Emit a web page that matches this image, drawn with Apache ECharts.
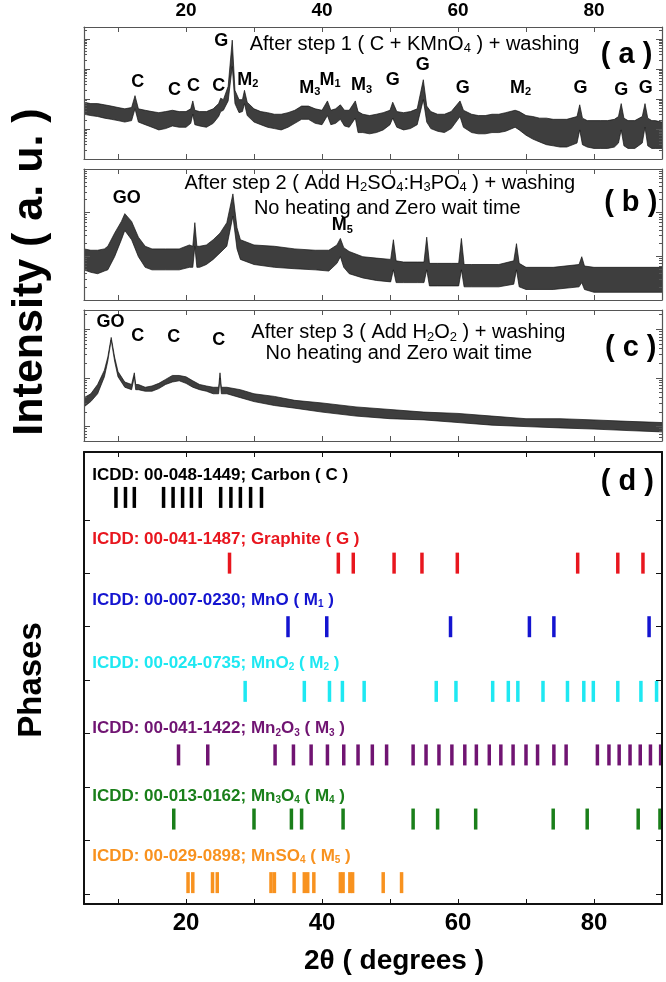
<!DOCTYPE html>
<html>
<head>
<meta charset="utf-8">
<script src="https://cdn.jsdelivr.net/npm/echarts@6/dist/echarts.min.js"></script>
<style>
  html, body { margin: 0; padding: 0; background: #fff; }
  #chart { width: 666px; height: 982px; }
</style>
</head>
<body>
<div id="chart"></div>
<script>
var FONT = '"Liberation Sans", Arial, sans-serif';

// 2theta axis
var thetaMin = 5, thetaMax = 90;
var thetaTicks = [10, 20, 30, 40, 50, 60, 70, 80, 90];
var thetaLabels = [20, 40, 60, 80];

// panel (a) : after step 1, noise band read as upper / lower envelope (counts)
var thetaA = [5,6,7,8,9,10,11,12,12.5,13,14,15,16,17,18,19,20,20.7,21.0,21.3,22,23,24,24.8,25.1,25.5,26.2,26.8,27.2,27.8,28.3,28.6,29,30,31,32,33,34,35,36,37,38,39,40,40.8,41.3,42,42.7,43.3,44,44.9,45.3,46,47,48,49,50,50.4,51,52,53,54,54.9,55.4,56,57,58,59,60.3,60.8,62,63,64,65,66,67,68.4,69,70,71,72,73,74,75,76,77.5,77.9,78.3,79,80,81,82,83,83.6,84.0,84.4,85,86,87.1,87.5,87.9,88.5,89,90];
var upperA = [78,70,70,64,58,52,47,52,129,47,42,38,35,38,42,38,38,47,86,42,38,38,47,70,106,95,263,9120,194,95,95,194,78,47,38,35,31,31,35,42,58,58,47,42,86,42,47,64,42,42,86,38,31,28,31,35,42,78,38,35,38,47,437,58,38,31,31,38,86,42,31,28,28,31,31,35,42,38,28,26,23,23,21,21,21,26,64,23,19,19,19,19,21,26,70,23,19,19,26,70,23,19,19,17];
var lowerA = [31,28,26,23,21,19,17,19,47,17,13.9,11.4,9.3,10.3,12.6,11.4,11.4,15.4,31,13.9,12.6,11.4,15.4,26,38,42,86,1202,70,35,38,70,28,17,13.9,11.4,10.3,9.3,11.4,15.4,21,21,15.4,13.9,28,13.9,15.4,21,12.6,11.4,23,7.6,7.6,6.9,7.6,9.3,13.9,23,11.4,9.3,10.3,13.9,95,17,10.3,8.4,7.6,10.3,26,11.4,7.6,6.9,6.9,7.6,7.6,8.4,11.4,9.3,6.2,4.6,3.7,3.0,2.75,2.5,2.5,3.4,9.3,3.0,2.5,2.25,2.25,2.25,2.5,3.4,9.3,2.75,2.25,2.25,3.4,11.4,2.75,2.25,2.25,2.25];
var rangeA = [1, 25000];
var decadesA = [1, 10, 100, 1000, 10000];
var labelThetaA = [12.9, 18.3, 21.1, 24.8, 25.2, 29.1, 38.2, 41.2, 45.8, 50.4, 54.8, 60.7, 69.2, 78.0, 84.0, 87.6];
var labelLevelA = [356, 194, 263, 263, 8241, 437, 238, 437, 291, 437, 1330, 238, 238, 238, 194, 238];
var labelTextA = ['C', 'C', 'C', 'C', 'G', 'M{s|2}', 'M{s|3}', 'M{s|1}', 'M{s|3}', 'G', 'G', 'G', 'M{s|2}', 'G', 'G', 'G'];
var titleA = ['After step 1 ( C + KMnO{t|4} ) + washing'];
var titleThetaA = [53.6], titleLevelA = [6730];
var tagA = [84.8, 2992];

// panel (b) : after step 2
var thetaB = [5,6,7,8,8.5,9.5,10.5,11.0,12,13,14,15,17,19,20.5,21.0,21.3,21.6,22,23,24,25,26,26.9,27.5,28,30,33,36,39,41,42.2,42.7,43.2,44,46,48,50.1,50.5,50.9,52,54,55.0,55.4,55.8,57,59,60.1,60.5,60.9,62,66,68.2,68.6,69,70,74,77.8,78.2,78.6,80,85,90];
var upperB = [14.8,13.8,13.8,14.8,17,34,63,95,63,27.5,17,14.8,14.8,14.8,18.2,17,59,17,17,18.2,24,34,59,269,45,24,18.2,17,14.8,13.8,13.8,18.2,25.7,15.8,12.9,9.8,9.1,8.5,24,7.9,7.4,7.4,7.4,27.5,6.9,6.9,6.9,6.9,25.7,6.5,6.5,6.5,7.9,19.5,6.9,5.6,5.6,6.5,9.8,6.0,5.6,5.6,5.6];
var lowerB = [4.9,4.3,4.0,4.6,4.9,9.8,24,39,24,9.8,5.6,4.9,4.9,4.9,5.6,5.6,17,5.6,5.6,6.5,8.5,12,17,83,14.8,8.5,6.5,5.6,5.2,4.9,4.6,6.9,9.8,5.6,4.0,3.2,2.8,2.6,4.9,2.5,2.5,2.5,2.5,4.9,2.1,2.1,2.1,2.1,4.9,2.0,2.0,2.0,2.3,4.9,2.0,1.74,1.74,2.0,2.5,1.74,1.5,1.5,1.5];
var rangeB = [1, 1000];
var decadesB = [1, 10, 100];
var labelThetaB = [11.3, 43.0];
var labelLevelB = [213, 52];
var labelTextB = ['GO', 'M{s|5}'];
var titleB = ['After step 2 ( Add H{t|2}SO{t|4}:H{t|3}PO{t|4} ) + washing', 'No heating and Zero wait time'];
var titleThetaB = [48.5, 49.6], titleLevelB = [471, 126];
var tagB = [85.4, 163];

// panel (c) : after step 3
var thetaC = [5,6,7,8,8.5,9,9.5,10,11,12,12.2,12.4,12.6,13,14,15,16,17,18,19,20,21,22,23,24,24.8,25.0,25.2,26,28,30,33,36,40,45,50,55,60,65,70,75,80,85,90];
var upperC = [3.9,4.7,7.3,14.4,26.8,68,26.8,13.5,8.2,7.3,7.3,12.7,7.3,7.3,6.4,6.8,7.7,9.3,11.2,11.2,10.5,8.7,7.3,6.8,6.4,6.4,12.7,6.4,6.4,5.7,4.7,4.15,3.44,3.04,2.52,2.23,1.97,1.85,1.63,1.44,1.44,1.36,1.27,1.2];
var lowerC = [2.52,3.24,4.7,10.5,22.2,60,22.2,10.5,6.4,5.7,5.7,10.5,5.7,5.7,5.3,5.3,6.0,7.3,8.2,8.7,7.7,6.4,5.7,5.3,4.7,4.7,9.9,4.7,4.7,3.9,3.24,2.69,2.37,1.97,1.63,1.44,1.36,1.2,1.06,0.99,0.93,0.88,0.82,0.77];
var rangeC = [0.5, 250];
var decadesC = [0.1, 1, 10, 100];
var labelThetaC = [8.9, 12.9, 18.2, 24.8];
var labelLevelC = [144, 74, 71, 61];
var labelTextC = ['GO', 'C', 'C', 'C'];
var titleC = ['After step 3 ( Add H{t|2}O{t|2} ) + washing', 'No heating and Zero wait time'];
var titleThetaC = [52.7, 51.3], titleLevelC = [86, 32];
var tagC = [85.4, 41];

// panel (d) : reference phases (stick positions in 2theta)
var carbonPeaks = [9.7, 11.1, 12.4, 16.7, 18.1, 19.5, 20.8, 22.1, 25.1, 26.6, 28.0, 29.5, 31.1];
var graphitePeaks = [26.4, 42.4, 44.6, 50.6, 54.7, 59.9, 77.6, 83.5, 87.2];
var mnoPeaks = [35.0, 40.7, 58.9, 70.5, 74.1, 88.1];
var mno2Peaks = [28.7, 37.4, 41.1, 43.0, 46.2, 56.8, 59.7, 65.1, 67.4, 68.8, 72.5, 76.1, 78.5, 79.9, 83.5, 86.9, 89.2];
var mn2o3Peaks = [18.9, 23.2, 33.1, 35.8, 38.4, 40.8, 43.2, 45.3, 47.4, 49.5, 53.4, 55.3, 57.2, 59.1, 61.0, 62.7, 64.6, 66.3, 68.1, 70.0, 71.7, 74.1, 75.9, 80.5, 82.2, 83.7, 85.3, 86.8, 88.3, 89.8];
var mn3o4Peaks = [18.2, 30.0, 35.5, 37.0, 43.1, 53.4, 57.0, 62.6, 74.0, 79.0, 86.5, 89.7];
var mnso4Peaks = [20.3, 21.0, 23.9, 24.6, 32.5, 33.0, 35.9, 37.4, 37.9, 38.8, 42.7, 43.1, 44.1, 44.5, 49.0, 51.7];

var phaseNames = [
  'ICDD: 00-048-1449; Carbon ( C )',
  'ICDD: 00-041-1487; Graphite ( G )',
  'ICDD: 00-007-0230; MnO ( M{s|1} )',
  'ICDD: 00-024-0735; MnO{s|2} ( M{s|2} )',
  'ICDD: 00-041-1422; Mn{s|2}O{s|3} ( M{s|3} )',
  'ICDD: 00-013-0162; Mn{s|3}O{s|4} ( M{s|4} )',
  'ICDD: 00-029-0898; MnSO{s|4} ( M{s|5} )'
];
var phaseColors = ['#000000', '#e8161e', '#1414d0', '#1ee8f2', '#701472', '#1a7f1a', '#f8921f'];
var phasePeaks = [carbonPeaks, graphitePeaks, mnoPeaks, mno2Peaks, mn2o3Peaks, mn3o4Peaks, mnso4Peaks];
var phaseRow = [7.42, 6.19, 5.0, 3.79, 2.60, 1.40, 0.21];
var phaseLabelRow = [7.84, 6.64, 5.50, 4.32, 3.09, 1.83, 0.71];
var phaseLabelTheta = 6.2;
var rowTicks = [0, 1, 2, 3, 4, 5, 6, 7];
var rowRange = [-0.19, 8.27];
var tagD = [84.9, 7.71];

var panels = [
  { theta: thetaA, upper: upperA, lower: lowerA, range: rangeA, decades: decadesA,
    lx: labelThetaA, ly: labelLevelA, lt: labelTextA, tt: titleA, tx: titleThetaA, ty: titleLevelA, tag: tagA, tagText: '( a )' },
  { theta: thetaB, upper: upperB, lower: lowerB, range: rangeB, decades: decadesB,
    lx: labelThetaB, ly: labelLevelB, lt: labelTextB, tt: titleB, tx: titleThetaB, ty: titleLevelB, tag: tagB, tagText: '( b )' },
  { theta: thetaC, upper: upperC, lower: lowerC, range: rangeC, decades: decadesC,
    lx: labelThetaC, ly: labelLevelC, lt: labelTextC, tt: titleC, tx: titleThetaC, ty: titleLevelC, tag: tagC, tagText: '( c )' }
];

var gridBoxes = [
  { left: 84, top: 27, width: 578, height: 132 },
  { left: 84, top: 169, width: 578, height: 131 },
  { left: 84, top: 310, width: 578, height: 131 },
  { left: 84, top: 452, width: 578, height: 452 }
];

function lg(v) { return Math.log10(v); }

var frameColor = '#555', frameWidth = 1.2;
var solid = { opacity: 1 };

function xAxisFor(i, pos, showLabel, size, color, width) {
  return {
    type: 'value', gridIndex: i, position: pos, min: thetaMin, max: thetaMax, z: 5,
    axisLine: { show: true, onZero: false, lineStyle: { color: color, width: width } },
    axisTick: { show: true, inside: true, length: 5, customValues: thetaTicks, lineStyle: { color: color, width: 1 } },
    axisLabel: { show: showLabel, customValues: thetaLabels, fontFamily: FONT, fontWeight: 'bold', fontSize: size, color: '#000', margin: 7 },
    splitLine: { show: false }
  };
}

function yAxisFor(i, pos, range, ticks, len, line, color, width) {
  return {
    type: 'value', gridIndex: i, position: pos, min: range[0], max: range[1], z: 5,
    axisLine: { show: line, onZero: false, lineStyle: { color: color, width: width } },
    axisTick: { show: true, inside: true, length: len, customValues: ticks, lineStyle: { color: color, width: 1 } },
    axisLabel: { show: false },
    splitLine: { show: false }
  };
}

var xAxes = [], yAxes = [], series = [];

var labelRich = {
  s: { fontFamily: FONT, fontWeight: 'bold', fontSize: 11, color: '#000', lineHeight: 11, verticalAlign: 'bottom' }
};
var titleRich = {
  t: { fontFamily: FONT, fontSize: 13, color: '#000', lineHeight: 13, verticalAlign: 'bottom' }
};

panels.forEach(function (p, i) {
  xAxes.push(xAxisFor(i, 'bottom', false, 19, frameColor, frameWidth));
  xAxes.push(xAxisFor(i, 'top', i === 0, 19, frameColor, frameWidth));

  var r = [lg(p.range[0]), lg(p.range[1])];
  var majors = [], minors = [];
  p.decades.forEach(function (d) {
    if (d >= p.range[0] && d <= p.range[1]) majors.push(lg(d));
    for (var m = 2; m <= 9; m++) {
      if (d * m > p.range[0] && d * m < p.range[1]) minors.push(lg(d * m));
    }
  });
  var base = yAxes.length;
  yAxes.push(yAxisFor(i, 'left', r, majors, 6, true, frameColor, frameWidth));
  yAxes.push(yAxisFor(i, 'left', r, minors, 3, false, frameColor, frameWidth));
  yAxes.push(yAxisFor(i, 'right', r, majors, 6, true, frameColor, frameWidth));
  yAxes.push(yAxisFor(i, 'right', r, minors, 3, false, frameColor, frameWidth));

  var up = p.theta.map(function (t, k) { return [t, lg(p.upper[k])]; });
  var lo = p.theta.map(function (t, k) { return [t, lg(p.lower[k])]; });

  series.push({
    type: 'line', xAxisIndex: 2 * i, yAxisIndex: base, data: up, symbol: 'none', z: 2,
    lineStyle: { color: '#111', width: 0.7 },
    areaStyle: { color: '#3e3e3e', opacity: 1, origin: 'start' }
  });
  series.push({
    type: 'line', xAxisIndex: 2 * i, yAxisIndex: base, data: lo, symbol: 'none', z: 3,
    lineStyle: { color: '#111', width: 0.7 },
    areaStyle: { color: '#ffffff', opacity: 1, origin: 'start' }
  });

  // peak annotations
  series.push({
    type: 'scatter', xAxisIndex: 2 * i, yAxisIndex: base, symbolSize: 0, z: 10, silent: true, itemStyle: solid,
    data: p.lx.map(function (x, k) { return { name: p.lt[k], value: [x, lg(p.ly[k])] }; }),
    label: { show: true, position: 'inside', formatter: function (q) { return q.name; },
      fontFamily: FONT, fontWeight: 'bold', fontSize: 18, color: '#000', lineHeight: 20, rich: labelRich }
  });
  // titles
  series.push({
    type: 'scatter', xAxisIndex: 2 * i, yAxisIndex: base, symbolSize: 0, z: 10, silent: true, itemStyle: solid,
    data: p.tt.map(function (s, k) { return { name: s, value: [p.tx[k], lg(p.ty[k])] }; }),
    label: { show: true, position: 'inside', formatter: function (q) { return q.name; },
      fontFamily: FONT, fontSize: 20, color: '#000', lineHeight: 22, rich: titleRich }
  });
  // panel tag
  series.push({
    type: 'scatter', xAxisIndex: 2 * i, yAxisIndex: base, symbolSize: 0, z: 10, silent: true, itemStyle: solid,
    data: [{ name: p.tagText, value: [p.tag[0], lg(p.tag[1])] }],
    label: { show: true, position: 'inside', formatter: function (q) { return q.name; },
      fontFamily: FONT, fontWeight: 'bold', fontSize: 29, color: '#000' }
  });
});

// panel (d)
xAxes.push(xAxisFor(3, 'bottom', true, 24, '#111', 2));
xAxes.push(xAxisFor(3, 'top', false, 19, '#111', 2));
var dY = yAxes.length;
yAxes.push(yAxisFor(3, 'left', rowRange, rowTicks, 6, true, '#111', 2));
yAxes.push(yAxisFor(3, 'right', rowRange, rowTicks, 6, true, '#111', 2));

phasePeaks.forEach(function (peaks, k) {
  series.push({
    type: 'scatter', xAxisIndex: 6, yAxisIndex: dY, symbol: 'rect', symbolSize: [3.5, 21], z: 4, silent: true,
    itemStyle: { color: phaseColors[k], opacity: 1 },
    data: peaks.map(function (x) { return [x, phaseRow[k]]; })
  });
  series.push({
    type: 'scatter', xAxisIndex: 6, yAxisIndex: dY, symbolSize: 0, z: 10, silent: true, itemStyle: solid,
    data: [{ name: phaseNames[k], value: [phaseLabelTheta, phaseLabelRow[k]] }],
    label: { show: true, position: 'right', distance: 0, formatter: function (q) { return q.name; },
      fontFamily: FONT, fontWeight: 'bold', fontSize: 17, color: phaseColors[k], lineHeight: 19,
      rich: { s: { fontFamily: FONT, fontWeight: 'bold', fontSize: 10, color: phaseColors[k], lineHeight: 10, verticalAlign: 'bottom' } } }
  });
});
series.push({
  type: 'scatter', xAxisIndex: 6, yAxisIndex: dY, symbolSize: 0, z: 10, silent: true, itemStyle: solid,
  data: [{ name: '( d )', value: tagD }],
  label: { show: true, position: 'inside', formatter: function (q) { return q.name; },
    fontFamily: FONT, fontWeight: 'bold', fontSize: 29, color: '#000' }
});

var option = {
  animation: false,
  backgroundColor: '#ffffff',
  grid: gridBoxes.map(function (g) { return Object.assign({ show: false }, g); }),
  xAxis: xAxes,
  yAxis: yAxes,
  series: series,
  graphic: [
    { type: 'text', x: 30, y: 272, rotation: Math.PI / 2,
      style: { text: 'Intensity ( a. u. )', fontFamily: FONT, fontWeight: 'bold', fontSize: 43, fill: '#000', align: 'center', verticalAlign: 'middle' } },
    { type: 'text', x: 32, y: 680, rotation: Math.PI / 2,
      style: { text: 'Phases', fontFamily: FONT, fontWeight: 'bold', fontSize: 33, fill: '#000', align: 'center', verticalAlign: 'middle' } },
    { type: 'text', x: 394, y: 961,
      style: { text: '2\u03b8 ( degrees )', fontFamily: FONT, fontWeight: 'bold', fontSize: 28, fill: '#000', align: 'center', verticalAlign: 'middle' } }
  ]
};

var chart = echarts.init(document.getElementById('chart'));
chart.setOption(option);
</script>
</body>
</html>
